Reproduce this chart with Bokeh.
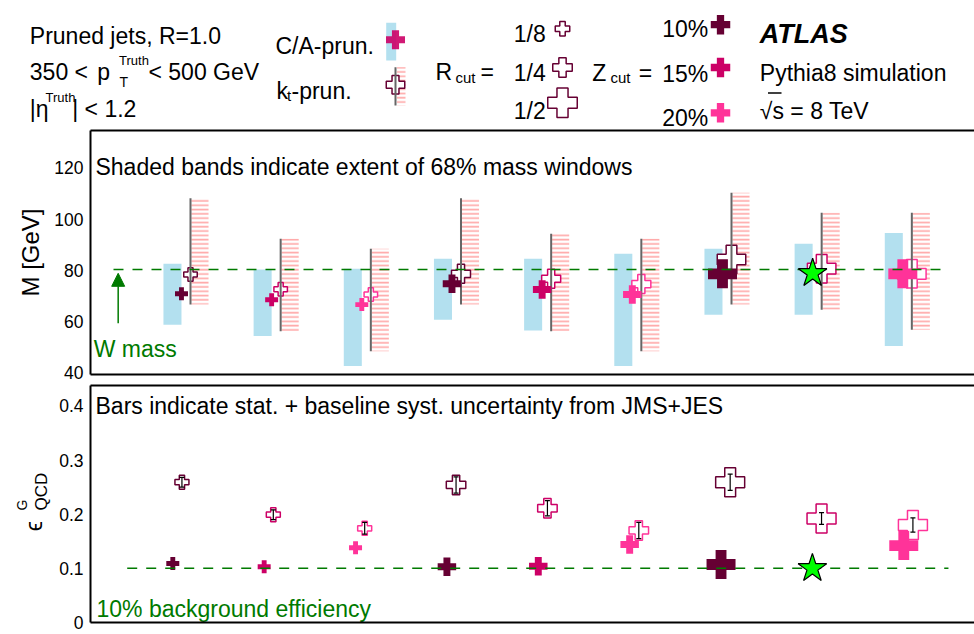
import numpy as np
from bokeh.plotting import figure
from bokeh.layouts import column, row
from bokeh.models import (Range1d, LinearAxis, FixedTicker, Arrow, NormalHead, ColumnDataSource)
from bokeh.embed import file_html
from bokeh.resources import INLINE
from bokeh.core.properties import value

FONT = "Liberation Sans"
GREEN = "#007a00"

# ---------------- data ----------------
configs = [1, 2, 3, 4, 5, 6, 7, 8, 9]
rcut = ["1/8", "1/8", "1/8", "1/4", "1/4", "1/4", "1/2", "1/2", "1/2"]
zcut = ["10%", "15%", "20%", "10%", "15%", "20%", "10%", "15%", "20%"]

ca_mass = [70.9, 68.6, 66.7, 74.8, 72.6, 70.6, 78.7, 78.9, 78.7]
ca_lo = [58.8, 54.4, 42.7, 60.8, 56.6, 42.7, 62.7, 62.7, 50.5]
ca_hi = [82.6, 80.4, 80.7, 84.6, 84.6, 86.5, 88.5, 90.4, 94.6]

kt_mass = [78.4, 72.7, 70.6, 78.7, 76.8, 74.7, 84.3, 80.7, 78.7]
kt_lo = [66.7, 56.3, 48.5, 66.7, 56.3, 48.5, 66.7, 64.7, 56.9]
kt_hi = [108.2, 92.4, 88.5, 108.2, 94.3, 92.4, 110.3, 102.5, 102.5]

ca_eff = [0.109, 0.103, 0.138, 0.103, 0.104, 0.144, 0.107, 0.100, 0.142]
kt_eff = [0.259, 0.199, 0.174, 0.254, 0.211, 0.170, 0.259, 0.192, 0.180]
kt_eff_err = [0.009, 0.009, 0.011, 0.015, 0.014, 0.015, 0.015, 0.011, 0.013]

best_config = 8
w_mass = 80.4
bkg_eff = 0.1

mass_ticks = [40, 60, 80, 100, 120]
eff_ticks = [0, 0.1, 0.2, 0.3, 0.4]
eff_tick_labels = ["0", "0.1", "0.2", "0.3", "0.4"]

# ---------------- styles ----------------
zcut_color = {"10%": "#660033", "15%": "#cc0066", "20%": "#ff3399"}
ca_size = {"1/8": 13, "1/4": 18.5, "1/2": 29}
kt_size = {"1/8": 13.5, "1/4": 19, "1/2": 28.5}
BAND = "#b3e0ef"
HATCH = "#ffaaaa"
GRAY = "#666666"

x = np.array(configs, dtype=float)
colors = [zcut_color[z] for z in zcut]
best = np.array([c == best_config for c in configs])
reg = ~best

W = 974
LEFT = 90
XR_TOP = (-0.009, 9.795)
XR_BOT = (0.0993, 9.774)
EPSW = 52


def frame_axes(p, ticks, label, overrides=None):
    ax = LinearAxis(ticker=FixedTicker(ticks=ticks), axis_label=label,
                    axis_label_text_font=FONT, axis_label_text_font_size="24px",
                    axis_label_text_font_style="normal", axis_label_text_color="black",
                    axis_label_standoff=7)
    ax.major_tick_out = 0
    ax.major_tick_in = 0
    ax.minor_tick_out = 0
    ax.minor_tick_in = 0
    ax.axis_line_width = 2
    ax.axis_line_color = "black"
    ax.major_label_text_font = FONT
    ax.major_label_text_font_size = "17.5px"
    ax.major_label_text_color = "black"
    ax.major_label_standoff = 7
    if overrides:
        ax.major_label_overrides = overrides
    p.add_layout(ax, "left")
    for loc in ("above", "below"):
        a = LinearAxis(ticker=FixedTicker(ticks=[]))
        a.major_tick_out = 0
        a.major_tick_in = 0
        a.minor_tick_out = 0
        a.minor_tick_in = 0
        a.axis_line_width = 2
        a.axis_line_color = "black"
        p.add_layout(a, loc)
    p.outline_line_color = None
    for g in p.grid:
        g.visible = False


def bare(width, height, xr, yr, **kw):
    f = figure(width=width, height=height, x_range=xr, y_range=yr,
               output_backend="svg", toolbar_location=None,
               x_axis_location=None, y_axis_location=None, **kw)
    f.outline_line_color = None
    for g in f.grid:
        g.visible = False
    return f


# ---------------- header ----------------
head = bare(W, 129, Range1d(0, W), Range1d(129, 0),
            min_border_left=0, min_border_right=0, min_border_top=0, min_border_bottom=0)

ht = dict(
    x=[29.3, 29.3, 96.7, 118.5, 119.0, 148.0, 29.3, 45.0, 71.7,
       275.0, 276.0, 286.5, 291.0,
       435.0, 455.0, 480.0,
       513.3, 513.3, 513.3,
       591.7, 610.0, 638.3,
       661.7, 661.7, 661.7,
       759.3, 759.3],
    y=[35.0, 71.7, 71.7, 60.0, 81.7, 71.7, 108.3, 96.7, 108.3,
       45.7, 90.7, 95.0, 90.7,
       71.7, 77.0, 71.7,
       33.3, 72.7, 110.0,
       72.7, 77.3, 72.7,
       28.3, 73.3, 117.0,
       72.7, 110.0],
    text=["Pruned jets, R=1.0", "350 <", "p", "Truth", "T", "< 500 GeV",
          "|\u03b7", "Truth", "| < 1.2",
          "C/A-prun.", "k", "t", "-prun.",
          "R", "cut", "=",
          "1/8", "1/4", "1/2",
          "Z", "cut", "=",
          "10%", "15%", "20%",
          "Pythia8 simulation", "\u221as = 8 TeV"],
    size=["23px", "23px", "23px", "13px", "14px", "23px", "23px", "13px", "23px",
          "23px", "23px", "15px", "23px",
          "23px", "15px", "23px",
          "23px", "23px", "23px",
          "23px", "15px", "23px",
          "23px", "23px", "23px",
          "23px", "23px"],
)
head.text(x="x", y="y", text="text", text_font_size="size", source=ColumnDataSource(ht),
          text_font=value(FONT), text_baseline="alphabetic", text_align="left",
          text_color="black")
head.text(x=[759.3], y=[33.3], text=["ATLAS"], text_font=value(FONT),
          text_font_size=value("27px"), text_font_style="bold italic",
          text_baseline="alphabetic", text_align="left", text_color="black")
head.segment(x0=[767.5], y0=[92.5], x1=[781.0], y1=[92.5], line_color="black", line_width=1.3)

# legend keys
head.quad(left=[385.7], right=[395.7], bottom=[60.0], top=[22.3], fill_color=BAND, line_color=None)
head.scatter(x=[395.0], y=[39.3], marker="plus", size=19, fill_color=zcut_color["15%"],
             line_color=None, fill_alpha=0.9)
head.quad(left=[396.5], right=[405.0], bottom=[105.0], top=[66.7], fill_color=None,
          line_color=None, hatch_pattern="horizontal_line", hatch_color=HATCH,
          hatch_scale=4.3, hatch_weight=1.7)
head.scatter(x=[395.0], y=[84.3], marker="plus", size=18.5, fill_color="white",
             line_color=zcut_color["10%"], line_width=1.5)
head.segment(x0=[395.0], y0=[66.7], x1=[395.0], y1=[105.0], line_color=GRAY, line_width=2)
head.scatter(x=[562, 562, 562], y=[28.3, 67.0, 102.3], marker="plus",
             size=[14.5, 19.5, 29.5], fill_color="white",
             line_color=zcut_color["10%"], line_width=1.5)
head.scatter(x=[720, 720, 720], y=[24.2, 67.0, 112.3], marker="plus", size=19.5,
             fill_color=[zcut_color[z] for z in ["10%", "15%", "20%"]], line_color=None)

# ---------------- top panel: mass ----------------
top = figure(width=W, height=255, x_range=Range1d(*XR_TOP), y_range=Range1d(39.41, 134.63),
             output_backend="svg", toolbar_location=None,
             x_axis_location=None, y_axis_location=None, outline_line_color=None,
             min_border_left=LEFT, min_border_right=0, min_border_top=1, min_border_bottom=10)
frame_axes(top, mass_ticks, "M [GeV]")

top.quad(left=x - 0.2, right=x, bottom=ca_lo, top=ca_hi, fill_color=BAND, line_color=None)
top.quad(left=x + 0.11, right=x + 0.3, bottom=kt_lo, top=kt_hi, fill_color=None,
         line_color=None, hatch_pattern="horizontal_line", hatch_color=HATCH,
         hatch_scale=4.3, hatch_weight=1.7)
top.scatter(x=x + 0.1, y=kt_mass, marker="plus", size=[kt_size[r] for r in rcut],
            fill_color="white", line_color=colors, line_width=1.5)
top.segment(x0=x + 0.1, y0=kt_lo, x1=x + 0.1, y1=kt_hi, line_color=GRAY, line_width=2)
top.scatter(x=x[reg], y=np.array(ca_mass)[reg], marker="plus",
            size=[ca_size[r] for r, b in zip(rcut, best) if not b],
            fill_color=[c for c, b in zip(colors, best) if not b], line_color=None)
top.line(x=[0.246, 9.507], y=[w_mass, w_mass], line_color=GREEN, line_width=1.5, line_dash="10 9")
top.scatter(x=x[best], y=np.array(ca_mass)[best], marker="star", size=30,
            fill_color="#00ff00", line_color="black", line_width=1.2)
top.add_layout(Arrow(end=NormalHead(size=13, fill_color=GREEN, line_color=GREEN, line_width=1),
                     x_start=0.298, y_start=59.4, x_end=0.298, y_end=78.9,
                     line_color=GREEN, line_width=1.5))
top.text(x=[0.046], y=[120.3], text=["Shaded bands indicate extent of 68% mass windows"],
         text_font=value(FONT), text_font_size=value("23px"), text_baseline="alphabetic",
         text_color="black")
top.text(x=[0.027], y=[49.2], text=["W mass"], text_font=value(FONT),
         text_font_size=value("23px"), text_baseline="alphabetic", text_color=GREEN)

# ---------------- bottom panel: efficiency ----------------
EYR = Range1d(0.0, 0.4376)
bot = figure(width=W - EPSW, height=249, x_range=Range1d(*XR_BOT), y_range=EYR,
             output_backend="svg", toolbar_location=None,
             x_axis_location=None, y_axis_location=None, outline_line_color=None,
             min_border_left=LEFT - EPSW, min_border_right=0, min_border_top=1, min_border_bottom=11)
frame_axes(bot, eff_ticks, "", overrides=dict(zip(eff_ticks, eff_tick_labels)))

bot.scatter(x=x + 0.1, y=kt_eff, marker="plus", size=[kt_size[r] + 0.5 for r in rcut],
            fill_color="white", line_color=colors, line_width=1.5)
lo = np.array(kt_eff) - np.array(kt_eff_err)
hi = np.array(kt_eff) + np.array(kt_eff_err)
bot.segment(x0=x + 0.1, y0=lo, x1=x + 0.1, y1=hi, line_color="black", line_width=1.2)
bot.scatter(x=np.concatenate([x, x]) + 0.1, y=np.concatenate([lo, hi]), marker="dash", size=5,
            line_color="black", line_width=1.2)
bot.scatter(x=x[reg], y=np.array(ca_eff)[reg], marker="plus",
            size=[ca_size[r] for r, b in zip(rcut, best) if not b],
            fill_color=[c for c, b in zip(colors, best) if not b], line_color=None)
bot.line(x=[0.501, 9.489], y=[bkg_eff, bkg_eff], line_color=GREEN, line_width=1.5, line_dash="10 9")
bot.scatter(x=x[best], y=np.array(ca_eff)[best], marker="star", size=30,
            fill_color="#00ff00", line_color="black", line_width=1.2)
bot.text(x=[0.154], y=[0.3995], text=["Bars indicate stat. + baseline syst. uncertainty from JMS+JES"],
         text_font=value(FONT), text_font_size=value("23px"), text_baseline="alphabetic",
         text_color="black")
bot.text(x=[0.165], y=[0.0255], text=["10% background efficiency"], text_font=value(FONT),
         text_font_size=value("23px"), text_baseline="alphabetic", text_color=GREEN)

# y-axis title  eps^G_QCD  (rotated), drawn in a narrow strip sharing the y scale
eps = bare(EPSW, 249, Range1d(0, EPSW), EYR,
           min_border_left=0, min_border_right=0, min_border_top=1, min_border_bottom=11)
eps.text(x=[33.3, 21.7, 41.0], y=[0.1685, 0.2067, 0.2067], text=["\u03f5", "G", "QCD"],
         text_font_size=["23px", "14px", "17px"], angle=np.pi / 2,
         text_font=value(FONT), text_baseline="alphabetic", text_align="left",
         text_color="black")

layout = column(head, column(top, row(eps, bot, spacing=0), spacing=0), spacing=0)
open("out.html", "w").write(file_html(layout, INLINE))
